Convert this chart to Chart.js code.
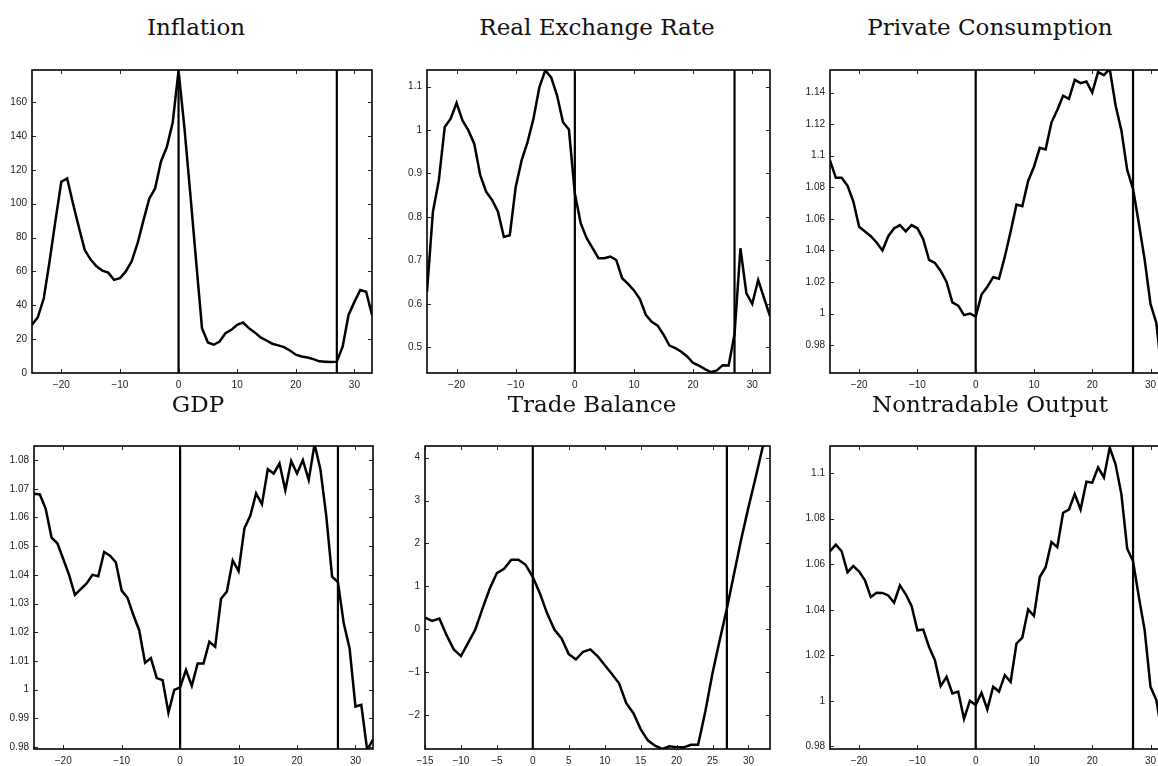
<!DOCTYPE html>
<html>
<head>
<meta charset="utf-8">
<script src="https://cdn.jsdelivr.net/npm/chart.js@4.4.1/dist/chart.umd.min.js"></script>
<style>
  html, body { margin:0; padding:0; background:#fff; width:1158px; height:766px; overflow:hidden; }
  #root { position:relative; width:1158px; height:766px; overflow:hidden; }
  canvas { position:absolute; }
  .ttl { position:absolute; font-family:"DejaVu Serif", serif; font-size:23px; line-height:23px; color:#111; white-space:nowrap; transform:translateX(-50%); }
</style>
</head>
<body>
<div id="root"></div>
<script>
// ---------------- DATA ----------------
const periods = [-25,-24,-23,-22,-21,-20,-19,-18,-17,-16,-15,-14,-13,-12,-11,-10,-9,-8,-7,-6,-5,-4,-3,-2,-1,
  0,1,2,3,4,5,6,7,8,9,10,11,12,13,14,15,16,17,18,19,20,21,22,23,24,25,26,27,28,29,30,31,32,33];
const periodsTB = [-15,-14,-13,-12,-11,-10,-9,-8,-7,-6,-5,-4,-3,-2,-1,
  0,1,2,3,4,5,6,7,8,9,10,11,12,13,14,15,16,17,18,19,20,21,22,23,24,25,26,27,28,29,30,31,32,33];

const inflation = [28.5,33,44,66,90,113,115,100,86,72.6,67,63,60.5,59.3,55,56,60,66,76.5,90,103,109,125,133.5,148,
  178.6,145,106,66,26.5,18,16.7,18.6,23.5,25.5,28.5,29.8,26.5,24,21,19.2,17.3,16.3,15.3,13.3,10.8,9.8,9.2,8.2,6.9,6.7,6.5,6.7,15.7,34.3,42,49,48,34.3];
const realExchangeRate = [0.628,0.812,0.884,1.007,1.026,1.062,1.022,0.999,0.968,0.896,0.858,0.839,0.812,0.754,0.758,0.869,0.930,0.972,1.026,1.098,1.137,1.121,1.079,1.018,1.001,
  0.854,0.785,0.751,0.728,0.705,0.705,0.709,0.701,0.659,0.646,0.631,0.611,0.575,0.559,0.550,0.529,0.504,0.498,0.490,0.479,0.464,0.458,0.450,0.443,0.447,0.459,0.458,0.53,0.728,0.625,0.600,0.655,0.613,0.572];
const privateConsumption = [1.097,1.086,1.086,1.081,1.071,1.055,1.052,1.049,1.045,1.040,1.049,1.054,1.056,1.052,1.056,1.054,1.047,1.034,1.032,1.027,1.020,1.007,1.005,0.999,1.000,
  0.998,1.012,1.017,1.023,1.022,1.036,1.052,1.069,1.068,1.084,1.093,1.105,1.104,1.121,1.129,1.138,1.136,1.148,1.146,1.147,1.140,1.153,1.151,1.155,1.132,1.116,1.091,1.079,1.057,1.034,1.006,0.994,0.96,0.955];
const gdp = [1.0683,1.068,1.063,1.053,1.051,1.0455,1.040,1.033,1.035,1.037,1.040,1.0395,1.048,1.0467,1.0444,1.0345,1.032,1.026,1.0207,1.0094,1.011,1.004,1.0033,0.992,0.9999,
  1.0008,1.0068,1.0013,1.0091,1.0091,1.0167,1.0149,1.0317,1.0342,1.045,1.0413,1.0562,1.0606,1.0684,1.0646,1.0768,1.0753,1.0788,1.0695,1.0797,1.0753,1.080,1.0731,1.0855,1.0768,1.0606,1.0394,1.0375,1.023,1.0143,0.9941,0.9947,0.9790,0.9826];
const tradeBalance = [0.272,0.195,0.249,-0.138,-0.470,-0.625,-0.316,-0.006,0.481,0.945,1.309,1.409,1.618,1.618,1.502,
  1.216,0.829,0.365,-0.006,-0.215,-0.578,-0.702,-0.524,-0.470,-0.625,-0.834,-1.043,-1.259,-1.723,-1.955,-2.326,-2.589,-2.713,-2.790,-2.728,-2.751,-2.751,-2.69,-2.69,-1.916,-1.027,-0.254,0.481,1.293,2.105,2.84,3.536,4.26,4.9];
const nontradableOutput = [1.0657,1.0686,1.0657,1.0565,1.0592,1.0568,1.0529,1.0456,1.0475,1.0474,1.0463,1.0431,1.0507,1.0468,1.0417,1.031,1.0313,1.0237,1.0179,1.0065,1.0106,1.0033,1.0041,0.9921,1.0001,
  0.9982,1.0036,0.9963,1.0062,1.0041,1.0113,1.0084,1.0252,1.0278,1.0402,1.0373,1.0544,1.0587,1.0697,1.0675,1.0826,1.084,1.0908,1.084,1.0962,1.0958,1.1025,1.0981,1.1112,1.1039,1.0908,1.0668,1.0614,1.0456,1.031,1.0062,1.0004,0.985,0.975];

const markerPeriods = [0, 27];

const xTicks = [-20,-10,0,10,20,30];
const xTicksTB = [-15,-10,-5,0,5,10,15,20,25,30];
const inflationTicks = [0,20,40,60,80,100,120,140,160];
const rerTicks = [0.5,0.6,0.7,0.8,0.9,1,1.1];
const pcTicks = [0.98,1,1.02,1.04,1.06,1.08,1.1,1.12,1.14];
const gdpTicks = [0.98,0.99,1,1.01,1.02,1.03,1.04,1.05,1.06,1.07,1.08];
const tbTicks = [-2,-1,0,1,2,3,4];
const noTicks = [0.98,1,1.02,1.04,1.06,1.08,1.1];

const titles = ["Inflation","Real Exchange Rate","Private Consumption","GDP","Trade Balance","Nontradable Output"];

// ---------------- LAYOUT ----------------
const panels = [
  {title:titles[0], x:periods,   y:inflation,          xr:[-25,33], yr:[0,179],         xt:xTicks,   yt:inflationTicks, box:[32,69,372,373],  tc:[196,35]},
  {title:titles[1], x:periods,   y:realExchangeRate,   xr:[-25,33], yr:[0.441,1.138],   xt:xTicks,   yt:rerTicks,       box:[427,69,770,373], tc:[597,35]},
  {title:titles[2], x:periods,   y:privateConsumption, xr:[-25,33], yr:[0.9623,1.1543], xt:xTicks,   yt:pcTicks,        box:[830,69,1168,373],tc:[990,35]},
  {title:titles[3], x:periods,   y:gdp,                xr:[-25,33], yr:[0.9793,1.0849], xt:xTicks,   yt:gdpTicks,       box:[34,445,373,749], tc:[198,412]},
  {title:titles[4], x:periodsTB, y:tradeBalance,       xr:[-15,33], yr:[-2.79,4.27],    xt:xTicksTB, yt:tbTicks,        box:[425,445,770,749],tc:[592,412]},
  {title:titles[5], x:periods,   y:nontradableOutput,  xr:[-25,33], yr:[0.9789,1.1119], xt:xTicks,   yt:noTicks,        box:[830,445,1168,749],tc:[990,412]}
];

const YW = 30, XH = 25, PT = 10, PR = 10;

const fmt = v => String(parseFloat(Number(v).toFixed(4))).replace('-', '\u2212');

const matlabAxes = {
  id: 'matlabAxes',
  afterDatasetsDraw(chart, args, opts) {
    const ctx = chart.ctx, a = chart.chartArea, xs = chart.scales.x, ys = chart.scales.y;
    ctx.save();
    // vertical marker lines
    ctx.beginPath();
    ctx.rect(a.left, a.top, a.right - a.left, a.bottom - a.top);
    ctx.clip();
    ctx.strokeStyle = '#000';
    ctx.lineWidth = 2.2;
    ctx.beginPath();
    opts.markers.forEach(m => {
      const px = xs.getPixelForValue(m);
      ctx.moveTo(px, a.top); ctx.lineTo(px, a.bottom);
    });
    ctx.stroke();
    // inward ticks
    ctx.lineWidth = 1;
    ctx.strokeStyle = '#222';
    ctx.beginPath();
    const L = 4;
    xs.ticks.forEach(t => {
      const px = Math.round(xs.getPixelForValue(t.value)) + 0.5;
      ctx.moveTo(px, a.top); ctx.lineTo(px, a.top + L);
      ctx.moveTo(px, a.bottom); ctx.lineTo(px, a.bottom - L);
    });
    ys.ticks.forEach(t => {
      const py = Math.round(ys.getPixelForValue(t.value)) + 0.5;
      ctx.moveTo(a.left, py); ctx.lineTo(a.left + L, py);
      ctx.moveTo(a.right, py); ctx.lineTo(a.right - L, py);
    });
    ctx.stroke();
    ctx.restore();
    // frame
    ctx.save();
    ctx.strokeStyle = '#000';
    ctx.lineWidth = 1.6;
    ctx.strokeRect(a.left, a.top, a.right - a.left, a.bottom - a.top);
    ctx.restore();
  }
};

const root = document.getElementById('root');

panels.forEach(p => {
  const [l, t, r, b] = p.box;
  const cv = document.createElement('canvas');
  const w = (r - l) + YW + PR, h = (b - t) + PT + XH;
  cv.width = w; cv.height = h;
  cv.style.width = w + 'px'; cv.style.height = h + 'px';
  cv.style.left = (l - YW) + 'px'; cv.style.top = (t - PT) + 'px';
  root.appendChild(cv);

  const ttl = document.createElement('div');
  ttl.className = 'ttl';
  ttl.textContent = p.title;
  ttl.style.left = p.tc[0] + 'px';
  ttl.style.top = (p.tc[1] - 19.5) + 'px';
  root.appendChild(ttl);

  const pts = p.x.map((xv, i) => ({x: xv, y: p.y[i]}));

  new Chart(cv, {
    type: 'line',
    data: { datasets: [{ data: pts, borderColor: '#000', borderWidth: 2.5, pointRadius: 0, tension: 0, fill: false, clip: 0 }] },
    plugins: [matlabAxes],
    options: {
      responsive: false, animation: false, devicePixelRatio: 1,
      layout: { padding: { top: PT, right: PR, left: 0, bottom: 0 } },
      plugins: { legend: { display: false }, tooltip: { enabled: false }, title: { display: false },
                 matlabAxes: { markers: markerPeriods } },
      scales: {
        x: {
          type: 'linear', min: p.xr[0], max: p.xr[1],
          grid: { display: false, drawTicks: false }, border: { display: false },
          afterBuildTicks: s => { s.ticks = p.xt.map(v => ({ value: v })); },
          afterFit: s => { s.height = XH; },
          ticks: { autoSkip: false, maxRotation: 0, padding: 6, color: '#222',
                   font: { family: '"Liberation Sans", Arial, sans-serif', size: 10 }, callback: v => fmt(v) }
        },
        y: {
          type: 'linear', min: p.yr[0], max: p.yr[1],
          grid: { display: false, drawTicks: false }, border: { display: false },
          afterBuildTicks: s => { s.ticks = p.yt.map(v => ({ value: v })); },
          afterFit: s => { s.width = YW; },
          ticks: { autoSkip: false, padding: 5, color: '#222',
                   font: { family: '"Liberation Sans", Arial, sans-serif', size: 10 }, callback: v => fmt(v) }
        }
      }
    }
  });
});
</script>
</body>
</html>
